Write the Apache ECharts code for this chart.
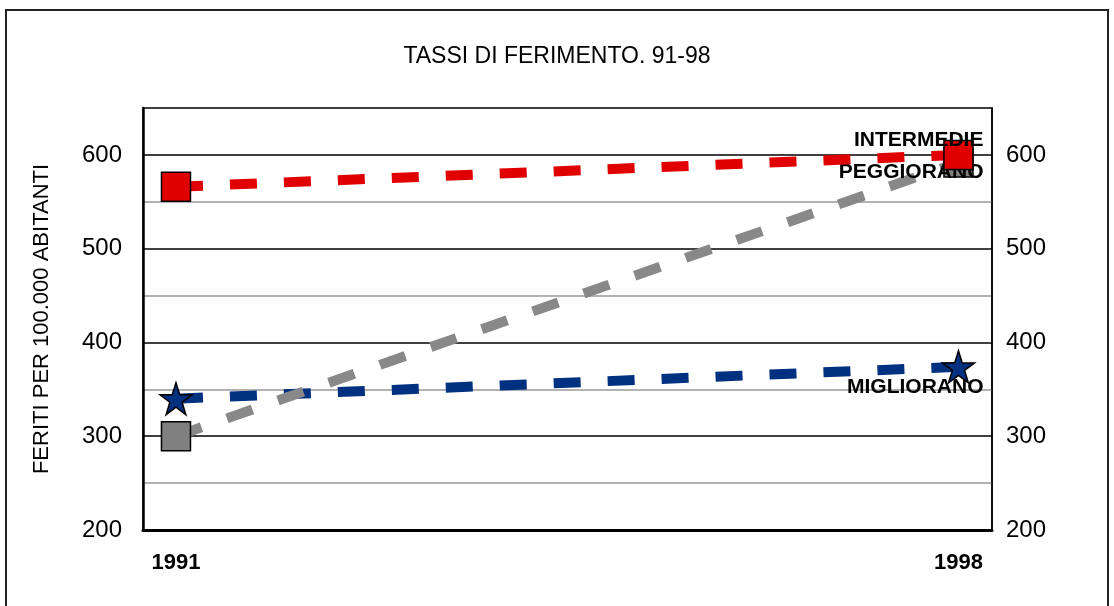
<!DOCTYPE html>
<html>
<head>
<meta charset="utf-8">
<script src="https://cdn.jsdelivr.net/npm/echarts@6/dist/echarts.min.js"></script>
<style>
html,body{margin:0;padding:0;background:#fff;}
#c{width:1114px;height:606px;}
</style>
</head>
<body>
<div id="c"></div>
<script>
var years = [1991, 1998];
var yearLabels = ['1991', '1998'];
var migliorano = [340, 374];
var intermedieGray = [300, 592];
var intermedieRed = [566, 600];
var seriesLabels = ['MIGLIORANO', 'PEGGIORANO', 'INTERMEDIE'];
var yTickValues = [200, 300, 400, 500, 600];

var FONT = "'Liberation Sans Narrow', 'Arial Narrow', 'Liberation Sans', Arial, sans-serif";
var STAR = 'path://M50,2 L61,36 L97,36 L68,57 L79,92 L50,71 L21,92 L32,57 L3,36 L39,36 Z';

function buildData(vals, labelText, offset) {
  return vals.map(function (v, i) {
    var d = { value: [years[i], v] };
    if (i === vals.length - 1) {
      d.label = {
        show: true, formatter: labelText, position: 'inside',
        align: 'right', verticalAlign: 'middle', offset: offset,
        fontFamily: FONT, fontWeight: 'bold', fontSize: 21, color: '#000'
      };
    }
    return d;
  });
}

var chart = echarts.init(document.getElementById('c'));
chart.setOption({
  animation: false,
  backgroundColor: '#fff',
  graphic: [{
    type: 'rect', shape: { x: 6, y: 10, width: 1102, height: 610 },
    style: { fill: 'none', stroke: '#222', lineWidth: 2 }, silent: true, z: -1
  }],
  title: {
    text: 'TASSI DI FERIMENTO. 91-98', left: 'center', top: 40,
    textStyle: { fontFamily: FONT, fontWeight: 'normal', fontSize: 23, color: '#000' }
  },
  grid: {
    left: 143, right: 122, top: 108, bottom: 76, show: true,
    borderColor: '#000', borderWidth: 1.5, backgroundColor: 'transparent'
  },
  xAxis: {
    type: 'value', min: 1990.705, max: 1998.3,
    axisLine: { show: true, lineStyle: { color: '#000', width: 3 } },
    axisTick: { show: false },
    splitLine: { show: false },
    axisLabel: {
      customValues: years,
      formatter: function (v) { var i = years.indexOf(v); return i >= 0 ? yearLabels[i] : ''; },
      fontFamily: FONT, fontWeight: 'bold', fontSize: 22, color: '#000', margin: 22
    }
  },
  yAxis: [{
    type: 'value', position: 'left', min: 200, max: 650, interval: 50,
    name: 'FERITI PER 100.000 ABITANTI', nameLocation: 'middle', nameRotate: 90, nameGap: 90,
    nameTextStyle: { fontFamily: FONT, fontSize: 22, color: '#000' },
    axisLine: { show: true, lineStyle: { color: '#000', width: 2.5 } },
    axisTick: { show: false },
    axisLabel: {
      formatter: function (v) { return yTickValues.indexOf(v) >= 0 ? String(v) : ''; },
      fontFamily: FONT, fontSize: 24, color: '#000', margin: 21
    },
    splitLine: { show: true, showMaxLine: false, lineStyle: { color: ['#000', '#999'], width: 1.5 } }
  }, {
    type: 'value', position: 'right', min: 200, max: 650, interval: 50,
    axisLine: { show: true, lineStyle: { color: '#000', width: 1.5 } },
    axisTick: { show: false },
    axisLabel: {
      formatter: function (v) { return yTickValues.indexOf(v) >= 0 ? String(v) : ''; },
      fontFamily: FONT, fontSize: 24, color: '#000', margin: 14
    },
    splitLine: { show: false }
  }],
  series: [{
    name: seriesLabels[0], type: 'line', data: buildData(migliorano, seriesLabels[0], [25, 20]),
    lineStyle: { color: '#003080', width: 10, type: [27, 27], cap: 'butt' },
    symbol: STAR, symbolSize: 32,
    itemStyle: { color: '#003080', borderColor: '#000', borderWidth: 1.5 }, z: 2
  }, {
    name: seriesLabels[1], type: 'line', data: buildData(intermedieGray, seriesLabels[1], [25, 10]),
    lineStyle: { color: '#888', width: 10, type: [27, 27], cap: 'butt' },
    symbol: 'rect', symbolSize: 29,
    itemStyle: { color: '#808080', borderColor: '#000', borderWidth: 1.5 }, z: 3
  }, {
    name: seriesLabels[2], type: 'line', data: buildData(intermedieRed, seriesLabels[2], [25, -15]),
    lineStyle: { color: '#e00000', width: 10, type: [27, 27], cap: 'butt' },
    symbol: 'rect', symbolSize: 29,
    itemStyle: { color: '#e00000', borderColor: '#000', borderWidth: 1.5 }, z: 4
  }]
});
</script>
</body>
</html>
